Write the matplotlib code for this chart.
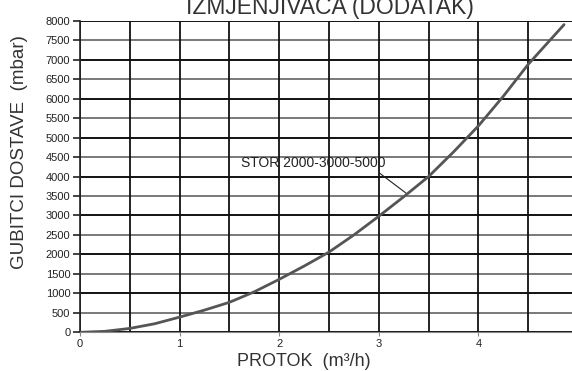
import matplotlib.pyplot as plt
from matplotlib.ticker import MultipleLocator

plt.rcParams['font.family'] = ['Liberation Sans', 'DejaVu Sans']

# flow (m3/h) vs pressure loss (mbar)
protok = [0, 0.25, 0.5, 0.75, 1, 1.25, 1.5, 1.75, 2, 2.25, 2.5, 2.75,
          3, 3.25, 3.5, 3.75, 4, 4.25, 4.5, 4.86]
gubitci = [0, 25, 100, 220, 390, 570, 770, 1040, 1360, 1700, 2060, 2500,
           2980, 3480, 4000, 4630, 5300, 6060, 6880, 7900]

x_ticks = [0, 1, 2, 3, 4, 5]
y_ticks = list(range(0, 8001, 500))
label = "STOR 2000-3000-5000"

fig = plt.figure(figsize=(5.72, 3.71), dpi=100)
ax = fig.add_axes([0.1399, 0.1043, 0.8706, 0.8399])

ax.set_xlim(0, 5)
ax.set_ylim(0, 8000)
ax.set_xticks(x_ticks)
ax.set_yticks(y_ticks)
ax.xaxis.set_minor_locator(MultipleLocator(0.5))

# grid
ax.grid(which='major', axis='x', color='#111111', linewidth=1.3)
ax.grid(which='minor', axis='x', color='#111111', linewidth=1.3)
for v in y_ticks:
    if v % 1000 == 0:
        ax.axhline(v, color='#111111', linewidth=1.4, zorder=1)
    else:
        ax.axhline(v, color='#555555', linewidth=1.1, zorder=1)

ax.plot(protok, gubitci, color='#555555', linewidth=2.0, zorder=3,
        solid_capstyle='round', solid_joinstyle='round')

ax.annotate(label, xy=(3.27, 3580), xytext=(1.62, 4340),
            fontsize=10, color='#222222', va='center', ha='left',
            arrowprops=dict(arrowstyle='-', color='#222222', lw=0.8,
                            shrinkA=0, shrinkB=0,
                            relpos=(0.93, 0.0)))

for s in ['top', 'right']:
    ax.spines[s].set_visible(False)
ax.spines['left'].set_color('#222222')
ax.spines['left'].set_linewidth(1.2)
ax.spines['bottom'].set_color('#888888')

ax.tick_params(axis='y', which='major', length=5, width=1.2, color='#222222',
               labelsize=8, labelcolor='#222222', pad=2)
ax.tick_params(axis='x', which='major', length=3, width=0.8, color='#888888',
               labelsize=8, labelcolor='#222222', pad=2)
ax.tick_params(axis='x', which='minor', length=0)

ax.set_ylabel("GUBITCI DOSTAVE  (mbar)", fontsize=13.5, color='#333333')
ax.yaxis.set_label_coords(-0.105, 0.58)
ax.set_xlabel("PROTOK  (m³/h)", fontsize=13, color='#333333')
ax.xaxis.set_label_coords(0.45, -0.068)
fig.text(0.577, 0.962, "IZMJENJIVAČA (DODATAK)", fontsize=16.5, color='#333333',
         ha='center', va='baseline')

fig.savefig("out.png", dpi=100)
